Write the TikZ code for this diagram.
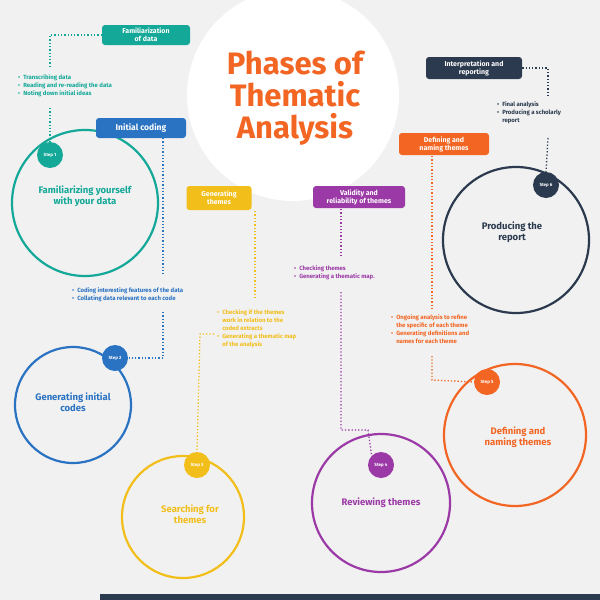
\documentclass[tikz,border=0pt]{standalone}
\usepackage{fontspec}
\setmainfont{Fira Sans}
\begin{document}
\begin{tikzpicture}[x=1pt,y=-1pt,
  lbl/.style={fill=#1,rounded corners=3pt,text=white,font=\fontsize{7}{8}\selectfont\bfseries,align=center,inner sep=2pt},
  dl/.style={draw=#1,line width=1.3pt,dotted},
  stp/.style={circle,fill=#1,text=white,font=\fontsize{4.5}{5}\selectfont\bfseries,minimum size=26pt,inner sep=0pt},
  big/.style={circle,draw=#1,line width=2.2pt,inner sep=0pt},
  btxt/.style={text=#1,font=\fontsize{9.5}{11.5}\selectfont\bfseries,align=center},
  bl/.style={text=#1,font=\fontsize{6}{8.2}\selectfont\bfseries,align=left,anchor=north west,inner sep=0pt}]
\definecolor{bg}{HTML}{F1F1F1}
\definecolor{teal}{HTML}{14A898}
\definecolor{blu}{HTML}{2A72C2}
\definecolor{yel}{HTML}{F2BE1A}
\definecolor{pur}{HTML}{9B3AA6}
\definecolor{org}{HTML}{F26522}
\definecolor{nav}{HTML}{2B3A4E}
\useasboundingbox (0,0) rectangle (600,600);
\fill[bg] (0,0) rectangle (600,600);
\fill[nav] (100,594) rectangle (600,600);
\node[circle,fill=white,minimum size=212pt,inner sep=0pt] (tc) at (293,95) {};
\node[text=org,font=\fontsize{31}{32}\selectfont\bfseries,align=center] (title) at (295,98) {Phases of\\Thematic\\Analysis};
% teal
\node[big=teal,minimum size=146pt] (c1) at (85,203) {};
\node[btxt=teal] (t1) at (85,196) {Familiarizing yourself\\with your data};
\node[stp=teal] (s1) at (50,155) {Step 1};
\node[lbl=teal,minimum width=88pt,minimum height=20pt] (b1) at (146,35) {Familiarization\\of data};
\node[bl=teal] (p1) at (18,74) {\textbullet\enspace Transcribing data\\\textbullet\enspace Reading and re-reading the data\\\textbullet\enspace Noting down initial ideas};
\coordinate (k1) at (50,35);
\draw[dl=teal] (b1.west) -- (k1) -- (50,66);
\draw[dl=teal] (50,108) -- (s1.north);
% blue
\node[big=blu,minimum size=116pt] (c2) at (73,405) {};
\node[btxt=blu] (t2) at (73,402) {Generating initial\\codes};
\node[stp=blu] (s2) at (115,358) {Step 2};
\node[lbl=blu,minimum width=90pt,minimum height=20pt,font=\fontsize{8.5}{10}\selectfont\bfseries] (b2) at (141,128) {Initial coding};
\node[bl=blu] (p2) at (72,287) {\textbullet\enspace Coding interesting features of the data\\\textbullet\enspace Collating data relevant to each code};
\draw[dl=blu] (163,138) -- (163,274);
\coordinate (k2) at (163,358);
\draw[dl=blu] (163,312) -- (k2) -- (s2.east);
% yellow
\node[big=yel,minimum size=122pt] (c3) at (183,517) {};
\node[btxt=yel] (t3) at (190,514) {Searching for\\themes};
\node[stp=yel] (s3) at (197,465) {Step 3};
\node[lbl=yel,minimum width=65pt,minimum height=24pt] (b3) at (219,198) {Generating\\themes};
\node[bl=yel] (p3) at (217,309) {\textbullet\enspace Checking if the themes\\\phantom{\textbullet\enspace}work in relation to the\\\phantom{\textbullet\enspace}coded extracts\\\textbullet\enspace Generating a thematic map\\\phantom{\textbullet\enspace}of the analysis};
\draw[dl=yel] (255,211) -- (255,300);
\coordinate (k3) at (200,334);
\draw[dl=yel] (214,334) -- (k3) -- (s3.north);
% purple
\node[big=pur,minimum size=138pt] (c4) at (381,503) {};
\node[btxt=pur] (t4) at (381,503) {Reviewing themes};
\node[stp=pur] (s4) at (381,465) {Step 4};
\node[lbl=pur,minimum width=92pt,minimum height=22pt] (b4) at (359,197) {Validity and\\reliability of themes};
\node[bl=pur] (p4) at (294,265) {\textbullet\enspace Checking themes\\\textbullet\enspace Generating a thematic map.};
\draw[dl=pur] (341,209) -- (341,256);
\coordinate (k4) at (341,430);
\draw[dl=pur] (341,292) -- (k4) -- (368,430) -- (s4.north west);
% orange
\node[big=org,minimum size=142pt] (c5) at (515,435) {};
\node[btxt=org] (t5) at (518,437) {Defining and\\naming themes};
\node[stp=org] (s5) at (487,382) {Step 5};
\node[lbl=org,minimum width=90pt,minimum height=22pt] (b5) at (444,144) {Defining and\\naming themes};
\node[bl=org] (p5) at (391,314) {\textbullet\enspace Ongoing analysis to refine\\\phantom{\textbullet\enspace}the specific of each theme\\\textbullet\enspace Generating definitions and\\\phantom{\textbullet\enspace}names for each theme};
\draw[dl=org] (432,156) -- (432,308);
\coordinate (k5) at (432,380);
\draw[dl=org] (432,356) -- (k5) -- (s5.west);
% navy
\node[big=nav,minimum size=146pt] (c6) at (516,240) {};
\node[btxt=nav] (t6) at (512,232) {Producing the\\report};
\node[stp=nav] (s6) at (546,185) {Step 6};
\node[lbl=nav,minimum width=96pt,minimum height=22pt] (b6) at (474,68) {Interpretation and\\reporting};
\node[bl=nav] (p6) at (497,101) {\textbullet\enspace Final analysis\\\textbullet\enspace Producing a scholarly\\\phantom{\textbullet\enspace}report};
\coordinate (k6) at (548,68);
\draw[dl=nav] (b6.east) -- (k6) -- (548,96);
\draw[dl=nav] (548,138) -- (s6.north);
\end{tikzpicture}
\end{document}
